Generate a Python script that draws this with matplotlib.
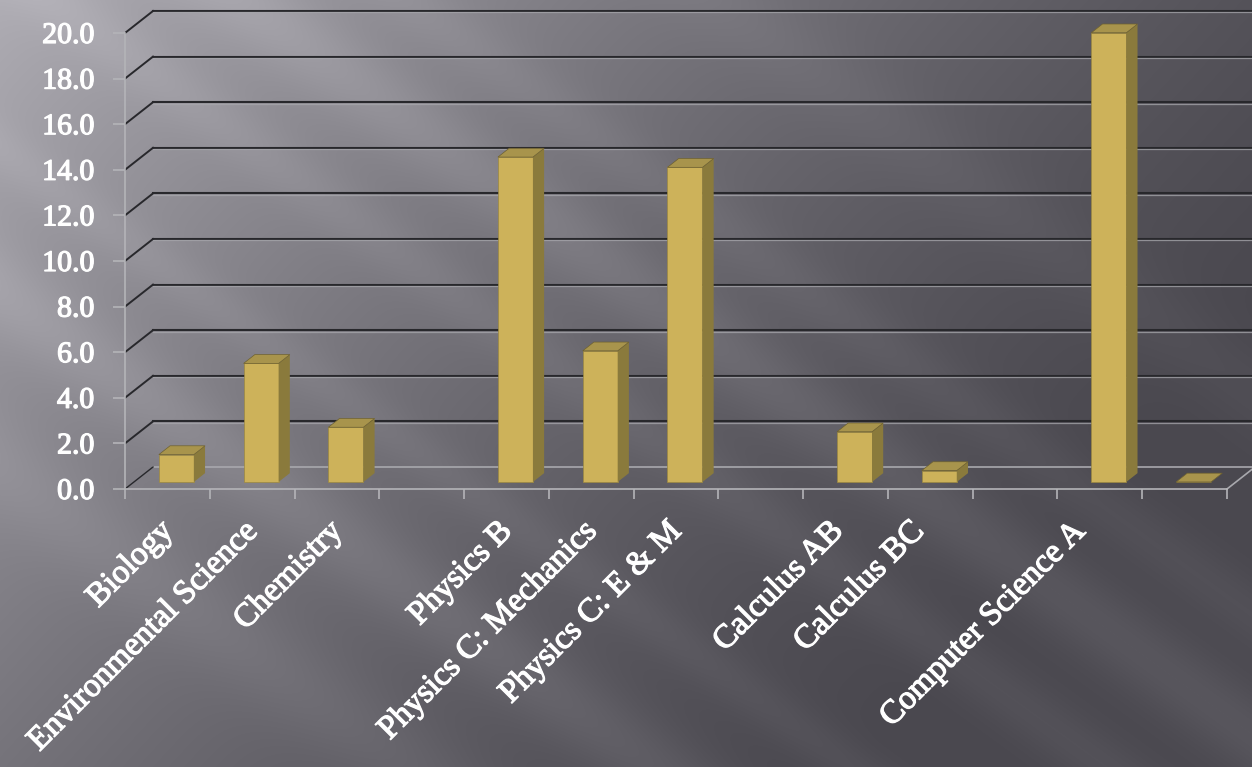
import numpy as np
import matplotlib
matplotlib.use("Agg")
import matplotlib.pyplot as plt
from matplotlib.patches import Polygon
import matplotlib.transforms as mtransforms
import matplotlib.patheffects as pe

# data (empty slots have no bar)
categories = ['Biology', 'Environmental Science', 'Chemistry', '',
              'Physics B', 'Physics C: Mechanics', 'Physics C: E & M', '',
              'Calculus AB', 'Calculus BC', '', 'Computer Science A', '']
values = [1.2, 5.2, 2.4, np.nan, 14.25, 5.75, 13.8, np.nan,
          2.2, 0.5, np.nan, 19.7, 0.0]
y_ticks = [0, 2, 4, 6, 8, 10, 12, 14, 16, 18, 20]

W, H = 1252, 767
SLOT_PX = 84.77      # pixels per category slot
UNIT_PX = 22.8       # pixels per y unit
X0_PX, Y0_PX = 125, 489

fig = plt.figure(figsize=(W / 100, H / 100), dpi=100)

# background: grey gradient with soft diagonal streaks
bg = fig.add_axes([0, 0, 1, 1])
bg.axis('off')
yy, xx = np.mgrid[0:H, 0:W].astype(float)
X, Y = xx / W, yy / H
b = 74 + 100 * np.clip(1 - (0.8 * X + 0.45 * Y), 0, 1) ** 1.4
ang = np.deg2rad(36)
p = xx * np.sin(ang) - yy * np.cos(ang)
for pc, amp, sig in [(-236, 14, 40), (-120, 8, 25), (30, 9, 30),
                     (142, 14, 40), (239, 8, 30), (420, 6, 40), (-380, 10, 45)]:
    b = b + amp * np.exp(-((p - pc) / sig) ** 2)
rgb = np.clip(np.stack([b, b - 2, b + 5], axis=-1) / 255, 0, 1)
bg.imshow(rgb, aspect='auto', extent=(0, W, H, 0))
bg.set_xlim(0, W)
bg.set_ylim(H, 0)

# main axes, mapped so that front plane matches the pixel layout
ax = fig.add_axes([X0_PX / W, (H - Y0_PX) / H, (W - X0_PX) / W, Y0_PX / H])
ax.set_facecolor('none')
xmax = (W - X0_PX) / SLOT_PX
ax.set_xlim(0, xmax)
ax.set_ylim(0, Y0_PX / UNIT_PX)

DX = 28 / SLOT_PX    # depth offset of back wall
DY = 22 / UNIT_PX
n = len(categories)

dark = '#28282c'
light = '#a8a8ad'
below = mtransforms.offset_copy(ax.transData, fig=fig, y=-1.4, units='dots')

for v in y_ticks:
    if v == 0:
        ax.plot([DX, xmax + 1], [v + DY] * 2, color=light, lw=1.2, zorder=1)
        ax.plot([0, DX], [v, v + DY], color=dark, lw=1.0, zorder=1)
        ax.plot([n, n + DX], [v, v + DY], color=light, lw=1.2, zorder=1, clip_on=False)
        continue
    ax.plot([DX, xmax + 1], [v + DY] * 2, color=dark, lw=1.5, zorder=1)
    ax.plot([DX, xmax + 1], [v + DY] * 2, color=light, lw=0.9, alpha=0.75,
            transform=below, zorder=1)
    ax.plot([0, DX], [v, v + DY], color=dark, lw=1.4, zorder=1)

# 3D-looking bars
F = 0.32          # depth position of front face
BD = 0.40         # bar depth
BW = 35 / SLOT_PX
front_c, side_c, top_c = '#cdb25a', '#8a7a3c', '#a8944c'
xs = np.arange(n) + 0.5 + F * DX
base = F * DY
vals = np.array(values, dtype=float)
ok = ~np.isnan(vals)
ax.bar(xs[ok], vals[ok], width=BW, bottom=base, color=front_c,
       edgecolor='#9c8840', linewidth=0.5, zorder=3)
ddx, ddy = BD * DX, BD * DY
for xc, v in zip(xs[ok], vals[ok]):
    xl, xr = xc - BW / 2, xc + BW / 2
    top = base + v
    ax.add_patch(Polygon([(xr, base), (xr + ddx, base + ddy),
                          (xr + ddx, top + ddy), (xr, top)],
                         closed=True, facecolor=side_c, edgecolor='none', zorder=3))
    ax.add_patch(Polygon([(xl, top), (xr, top), (xr + ddx, top + ddy),
                          (xl + ddx, top + ddy)],
                         closed=True, facecolor=top_c, edgecolor='#6e6130',
                         linewidth=0.5, zorder=3))

# axes lines and ticks
for s in ['top', 'right']:
    ax.spines[s].set_visible(False)
axis_c = '#b4b4b8'
ax.spines['left'].set_bounds(0, 20)
ax.spines['bottom'].set_bounds(0, n)
for s in ['left', 'bottom']:
    ax.spines[s].set_color(axis_c)
    ax.spines[s].set_linewidth(1.2)

serif = ['Liberation Serif', 'DejaVu Serif']
thick = [pe.withStroke(linewidth=0.9, foreground='white')]
ax.set_yticks(y_ticks)
ax.set_yticklabels([f'{v:.1f}' for v in y_ticks], family=serif, fontsize=21.5)
ax.tick_params(axis='y', length=8.6, width=1.2, color=axis_c,
               labelcolor='white', pad=13.5)
for lab in ax.get_yticklabels():
    lab.set_path_effects(thick)

ax.set_xticks(np.arange(n + 1), minor=True)
ax.set_xticks(np.arange(n) + 0.5)
ax.set_xticklabels(categories, family=serif, fontsize=24, rotation=45,
                   ha='right', va='center', rotation_mode='anchor')
ax.tick_params(axis='x', which='major', length=0, labelcolor='white', pad=27)
ax.tick_params(axis='x', which='minor', length=7.2, width=1.2, color=axis_c)
for i, lab in enumerate(ax.get_xticklabels()):
    dx_px = 1 - 4 * max(0, i - 6)
    lab.set_transform(lab.get_transform() +
                      mtransforms.ScaledTranslation(dx_px / 100, 0, fig.dpi_scale_trans))
    lab.set_path_effects(thick)

fig.savefig('out.png', dpi=100)
